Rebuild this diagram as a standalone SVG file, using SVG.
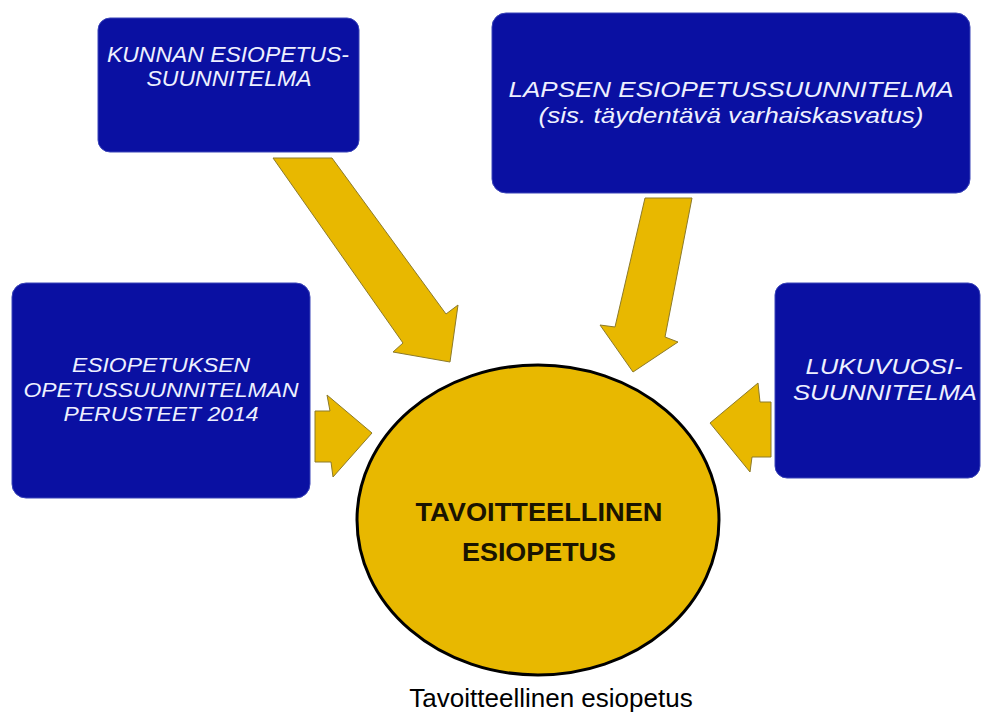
<svg xmlns="http://www.w3.org/2000/svg" width="983" height="715" viewBox="0 0 983 715">
<style>
.box{fill:#0a10a2;stroke:#3a44b8;stroke-width:1}
.bt{font-family:"Liberation Sans",Arial,sans-serif;font-style:italic;fill:#eef0ff;text-anchor:middle}
.arr{fill:#e8b800;stroke:#8c7a2a;stroke-width:1;stroke-linejoin:miter}
.ct{font-family:"Liberation Sans",Arial,sans-serif;font-weight:bold;fill:#1a1400;text-anchor:middle}
</style>
<rect width="983" height="715" fill="#ffffff"/>
<g id="connectors">
<polygon class="arr" points="273,158 332,158 446,314 458,305 450,362 393,352 403,343"/>
<polygon class="arr" points="645,198 692,198 665,337 678,342 633,372 600,325 615,327"/>
<polygon class="arr" points="315,411 330,411 327,395 372,433 333,477 331,462 315,462"/>
<polygon class="arr" points="771,402 760,402 758,383 710,423 750,472 752,457 771,457"/>
</g>
<g id="node-kunnan">
<rect class="box" x="98" y="18" width="261" height="134" rx="12"/>
<text class="bt" x="228" y="62" font-size="22" textLength="242" lengthAdjust="spacingAndGlyphs">KUNNAN ESIOPETUS-</text>
<text class="bt" x="229" y="86" font-size="22" textLength="165" lengthAdjust="spacingAndGlyphs">SUUNNITELMA</text>
</g>
<g id="node-lapsen">
<rect class="box" x="492" y="13" width="478" height="180" rx="14"/>
<text class="bt" x="731" y="97" font-size="22" textLength="445" lengthAdjust="spacingAndGlyphs">LAPSEN ESIOPETUSSUUNNITELMA</text>
<text class="bt" x="731" y="123" font-size="22" textLength="385" lengthAdjust="spacingAndGlyphs">(sis. täydentävä varhaiskasvatus)</text>
</g>
<g id="node-perusteet">
<rect class="box" x="12" y="283" width="298" height="215" rx="14"/>
<text class="bt" x="161" y="372" font-size="20.5" textLength="178" lengthAdjust="spacingAndGlyphs">ESIOPETUKSEN</text>
<text class="bt" x="161" y="397" font-size="20.5" textLength="275" lengthAdjust="spacingAndGlyphs">OPETUSSUUNNITELMAN</text>
<text class="bt" x="161" y="421" font-size="20.5" textLength="195" lengthAdjust="spacingAndGlyphs">PERUSTEET 2014</text>
</g>
<g id="node-lukuvuosi">
<rect class="box" x="775" y="283" width="205" height="195" rx="12"/>
<text class="bt" x="884" y="374" font-size="22" textLength="157" lengthAdjust="spacingAndGlyphs">LUKUVUOSI-</text>
<text class="bt" x="885" y="400" font-size="22" textLength="184" lengthAdjust="spacingAndGlyphs">SUUNNITELMA</text>
</g>
<g id="node-center">
<ellipse cx="538" cy="520" rx="181" ry="155" fill="#e8b800" stroke="#000000" stroke-width="3"/>
<text class="ct" x="539" y="521" font-size="25" textLength="247" lengthAdjust="spacingAndGlyphs">TAVOITTEELLINEN</text>
<text class="ct" x="539" y="561" font-size="25" textLength="154" lengthAdjust="spacingAndGlyphs">ESIOPETUS</text>
</g>
<text x="551" y="707" font-family="'Liberation Sans',Arial,sans-serif" font-size="26" fill="#000000" text-anchor="middle">Tavoitteellinen esiopetus</text>
</svg>
